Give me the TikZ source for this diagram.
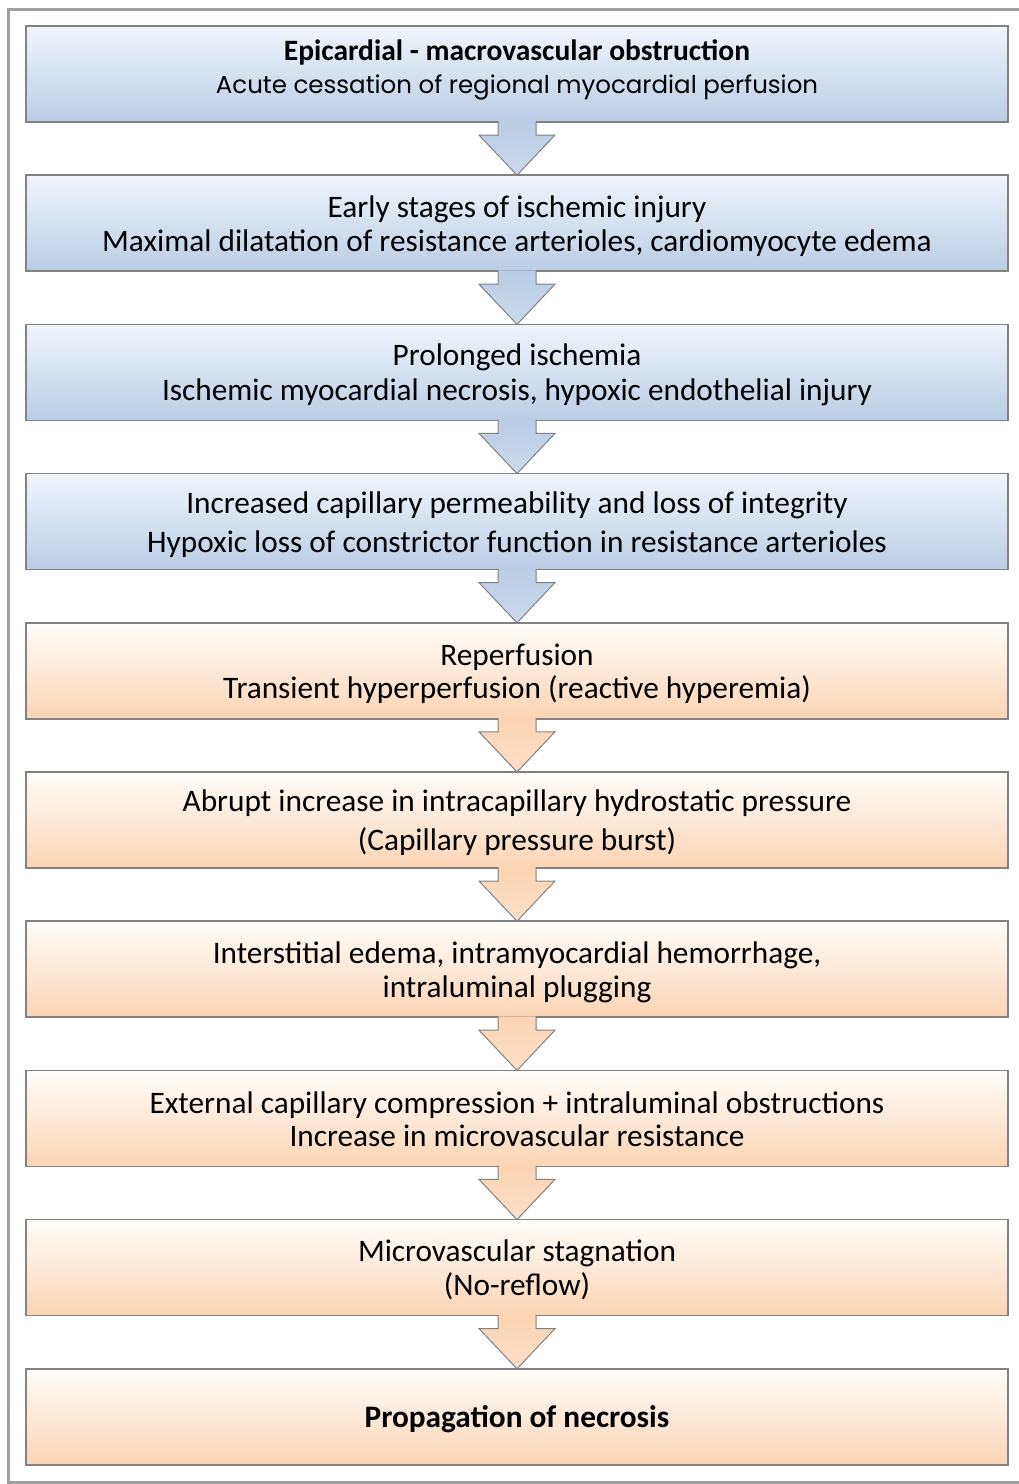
\documentclass[tikz,border=0pt]{standalone}
\usepackage{fontspec}
\setmainfont{Carlito}
\newfontfamily\gothicfont{Poppins}
\usetikzlibrary{positioning,calc}

\definecolor{bluetop}{RGB}{241,245,251}
\definecolor{bluebot}{RGB}{185,205,230}
\definecolor{orangetop}{RGB}{255,253,250}
\definecolor{orangebot}{RGB}{251,212,180}
\definecolor{framegray}{RGB}{160,160,160}
\definecolor{boxgray}{RGB}{130,130,130}

\tikzset{
  stage/.style={draw=boxgray, line width=1.5pt, minimum width=982pt, minimum height=96pt,
    inner sep=0pt, outer sep=0pt, align=center, font=\fontsize{31.3}{34}\selectfont,
    text height=60pt, text depth=4pt},
  bluestage/.style={stage, top color=bluetop, bottom color=bluebot},
  orangestage/.style={stage, top color=orangetop, middle color=orangebot, bottom color=orangebot},
}

% block arrow from the bottom of one stage to the top of the next
\newcommand{\flowarrow}[3]{%
  \path[draw=boxgray, line width=1pt, top color=#3, bottom color=#3!75!white]
    ($(#1.south)+(-19,0.8)$) -- ($(#1.south)+(-19,-13)$) -- ($(#1.south)+(-38,-13)$)
    -- (#2.north) -- ($(#1.south)+(38,-13)$) -- ($(#1.south)+(19,-13)$)
    -- ($(#1.south)+(19,0.8)$);
}

\begin{document}
\begin{tikzpicture}[x=1pt, y=1pt, node distance=53.2pt]
  \useasboundingbox (0,0) rectangle (1018,-1484);
  \draw[framegray, line width=3pt] (8.5,-9) rectangle (1030,-1482);

  \node[bluestage, text height=42pt] (obstruction) at (517,-74)
    {{\fontsize{29.5}{34}\selectfont\textbf{Epicardial - macrovascular obstruction}}\\[-1pt]{\gothicfont\fontsize{24.5}{34}\selectfont Acute cessation of regional myocardial perfusion}};
  \node[bluestage, below=of obstruction] (early)
    {Early stages of ischemic injury\\Maximal dilatation of resistance arterioles, cardiomyocyte edema};
  \node[bluestage, below=of early] (prolonged)
    {Prolonged ischemia\\[1pt]Ischemic myocardial necrosis, hypoxic endothelial injury};
  \node[bluestage, below=of prolonged, text height=65pt] (permeability)
    {Increased capillary permeability and loss of integrity\\[5pt]Hypoxic loss of constrictor function in resistance arterioles};
  \node[orangestage, below=of permeability] (reperfusion)
    {Reperfusion\\[-1pt]Transient hyperperfusion (reactive hyperemia)};
  \node[orangestage, below=of reperfusion, text height=65pt] (burst)
    {Abrupt increase in intracapillary hydrostatic pressure\\[5pt](Capillary pressure burst)};
  \node[orangestage, below=of burst] (edema)
    {Interstitial edema, intramyocardial hemorrhage,\\intraluminal plugging};
  \node[orangestage, below=of edema] (compression)
    {External capillary compression + intraluminal obstructions\\[-1pt]Increase in microvascular resistance};
  \node[orangestage, below=of compression] (noreflow)
    {Microvascular stagnation\\(No-reflow)};
  \node[orangestage, below=of noreflow, text height=24pt, text depth=2pt] (necrosis)
    {\textbf{Propagation of necrosis}};

  \flowarrow{obstruction}{early}{bluebot}
  \flowarrow{early}{prolonged}{bluebot}
  \flowarrow{prolonged}{permeability}{bluebot}
  \flowarrow{permeability}{reperfusion}{bluebot}
  \flowarrow{reperfusion}{burst}{orangebot}
  \flowarrow{burst}{edema}{orangebot}
  \flowarrow{edema}{compression}{orangebot}
  \flowarrow{compression}{noreflow}{orangebot}
  \flowarrow{noreflow}{necrosis}{orangebot}
\end{tikzpicture}
\end{document}
